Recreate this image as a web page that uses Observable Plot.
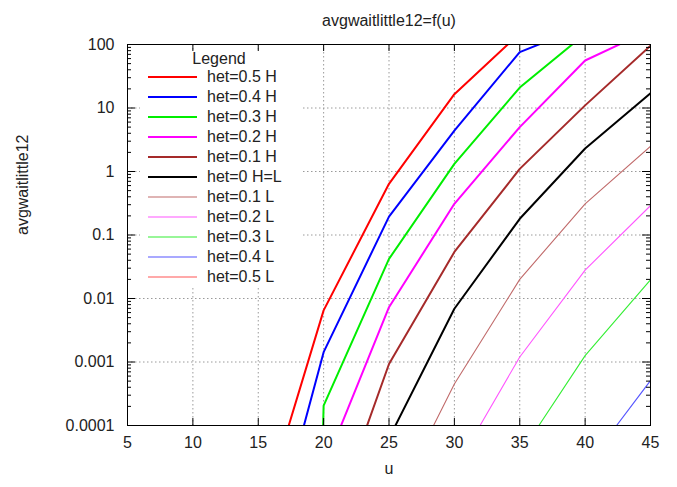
<!DOCTYPE html>
<html><head><meta charset="utf-8">
<script src="https://cdn.jsdelivr.net/npm/d3@7"></script>
<script src="https://cdn.jsdelivr.net/npm/@observablehq/plot@0.6"></script>
<style>
body{margin:0;background:#fff;}
#wrap{position:relative;width:677px;height:487px;font-family:"Liberation Sans",Arial,sans-serif;color:#222;}
#legend{position:absolute;left:140px;top:51px;width:161px;height:237px;background:#fff;font-size:16px;}
#legend .ttl{position:absolute;left:0;width:158px;text-align:center;top:0;line-height:16px;}
#legend .row{position:absolute;left:0;height:20px;width:161px;}
#legend svg{position:absolute;left:8px;top:0;}
#legend .lbl{position:absolute;left:67px;top:1px;line-height:18px;white-space:nowrap;}
</style></head><body><div id="wrap"></div>
<script>
// x values (u)
const u = [5, 10, 15, 20, 25, 30, 35, 40, 45];
// series values (avgwaitlittle12); points outside the 1e-4..100 window are clipped
const het05H = [1e-12, 1e-9, 2.6e-6, 0.0065, 0.64, 16.5, 150, 900, 4000];
const het04H = [1e-13, 1e-10, 2.1e-7, 0.00143, 0.195, 4.4, 76, 195, 800];
const het03H = [1e-60, 1e-52, 1e-45, 0.000206, 0.042, 1.32, 21, 147, 600];
const het02H = [1e-14, 1e-11, 1e-8, 2.1e-5, 0.0073, 0.31, 5.0, 56, 170];
const het01H = [1e-15, 1e-12, 1e-9, 1.2e-6, 0.00093, 0.054, 1.1, 11, 96];
const het0   = [1e-16, 1e-13, 1e-10, 1e-7, 6.3e-5, 0.0069, 0.18, 2.3, 17];
const het01L = [1e-17, 1e-14, 1e-11, 1e-8, 4e-6, 0.00045, 0.02, 0.31, 2.5];
const het02L = [1e-18, 1e-15, 1e-12, 1e-9, 1e-7, 2e-5, 0.0012, 0.028, 0.29];
const het03L = [1e-19, 1e-16, 1e-13, 1e-10, 1e-8, 1e-6, 3.5e-5, 0.00126, 0.0197];
const het04L = [1e-20, 1e-17, 1e-14, 1e-11, 1e-9, 1e-7, 1e-6, 2.2e-5, 0.00051];
const het05L = [1e-21, 1e-18, 1e-15, 1e-12, 1e-10, 1e-8, 1e-7, 1e-6, 2e-5];

const seriesNames = ["het=0.5 H","het=0.4 H","het=0.3 H","het=0.2 H","het=0.1 H","het=0 H=L",
                     "het=0.1 L","het=0.2 L","het=0.3 L","het=0.4 L","het=0.5 L"];
const seriesValues = [het05H, het04H, het03H, het02H, het01H, het0, het01L, het02L, het03L, het04L, het05L];
const seriesColors = ["#ff0000","#0000ff","#00ee00","#ff00ff","#a52a2a","#000000",
                      "#c06a6a","#ff55ff","#33ee33","#5555ff","#ff5555"];
const seriesWidths = [2,2,2,2,2,2,1.1,1.1,1.1,1.1,1.1];

const xTicks = [5, 10, 15, 20, 25, 30, 35, 40, 45];
const yTicks = [0.0001, 0.001, 0.01, 0.1, 1, 10, 100];
const yTickLabels = ["0.0001", "0.001", "0.01", "0.1", "1", "10", "100"];
const yMinorMultipliers = [2, 3, 4, 5, 6, 7, 8, 9];
const titleText = "avgwaitlittle12=f(u)";
const xLabel = "u";
const yLabel = "avgwaitlittle12";
const legendTitle = "Legend";

const W = 677, H = 487, mL = 127, mR = 27, mT = 44, mB = 62;
const fw = W - mL - mR, fh = H - mT - mB;
const yMinor = yTicks.slice(0, -1).flatMap(t => yMinorMultipliers.map(m => t * m));
const labMap = new Map(yTicks.map((t, i) => [t, yTickLabels[i]]));

const lineMarks = seriesNames.map((name, s) =>
  Plot.line(u.map((x, i) => ({u: x, v: seriesValues[s][i]})),
    {x: "u", y: "v", stroke: seriesColors[s], strokeWidth: seriesWidths[s], clip: true, strokeLinejoin: "round"}));

const chart = Plot.plot({
  width: W, height: H,
  marginLeft: mL, marginRight: mR, marginTop: mT, marginBottom: mB,
  style: {fontFamily: '"Liberation Sans", Arial, sans-serif', fontSize: "16px", color: "#222", background: "#fff"},
  x: {domain: [5, 45]},
  y: {type: "log", domain: [1e-4, 100]},
  marks: [
    Plot.gridX(xTicks.slice(1, -1), {stroke: "#9a9a9a", strokeOpacity: 1, strokeDasharray: "1.5,2.5"}),
    Plot.gridY(yTicks.slice(1, -1), {stroke: "#9a9a9a", strokeOpacity: 1, strokeDasharray: "1.5,2.5"}),
    ...lineMarks,
    Plot.frame({stroke: "#000"}),
    Plot.tickX(xTicks, {x: d => d, insetTop: fh - 7, stroke: "#000"}),
    Plot.tickX(xTicks, {x: d => d, insetBottom: fh - 7, stroke: "#000"}),
    Plot.tickY(yTicks, {y: d => d, insetRight: fw - 8, stroke: "#000"}),
    Plot.tickY(yTicks, {y: d => d, insetLeft: fw - 8, stroke: "#000"}),
    Plot.tickY(yMinor, {y: d => d, insetRight: fw - 4, stroke: "#000"}),
    Plot.tickY(yMinor, {y: d => d, insetLeft: fw - 4, stroke: "#000"}),
    Plot.axisX({ticks: xTicks, tickSize: 0, tickPadding: 11, label: null, tickFormat: d => String(d)}),
    Plot.axisY({ticks: yTicks, tickSize: 0, tickPadding: 13, label: null, tickFormat: d => labMap.get(d)}),
    Plot.text([titleText], {frameAnchor: "top", dy: -30, fill: "#222"}),
    Plot.text([xLabel], {frameAnchor: "bottom", dy: 48, fill: "#222"}),
    Plot.text([yLabel], {frameAnchor: "left", dx: -105, rotate: -90, fill: "#222"})
  ]
});

const wrap = document.getElementById("wrap");
wrap.appendChild(chart);

// key (opaque box like gnuplot's)
const NS = "http://www.w3.org/2000/svg";
const leg = document.createElement("div");
leg.id = "legend";
const t = document.createElement("div");
t.className = "ttl"; t.textContent = legendTitle;
leg.appendChild(t);
seriesNames.forEach((name, i) => {
  const row = document.createElement("div");
  row.className = "row";
  row.style.top = (16 + 20 * i) + "px";
  const svg = document.createElementNS(NS, "svg");
  svg.setAttribute("width", "49"); svg.setAttribute("height", "20");
  const ln = document.createElementNS(NS, "line");
  ln.setAttribute("x1", "0"); ln.setAttribute("x2", "49");
  ln.setAttribute("y1", "10"); ln.setAttribute("y2", "10");
  ln.setAttribute("stroke", seriesColors[i]);
  ln.setAttribute("stroke-width", String(seriesWidths[i]));
  svg.appendChild(ln);
  const lbl = document.createElement("div");
  lbl.className = "lbl"; lbl.textContent = name;
  row.appendChild(svg); row.appendChild(lbl);
  leg.appendChild(row);
});
wrap.appendChild(leg);
</script>
</body></html>
